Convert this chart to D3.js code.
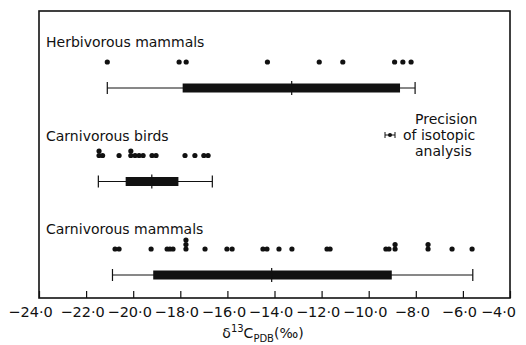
<!DOCTYPE html>
<html>
<head>
<meta charset="utf-8">
<script src="https://cdn.jsdelivr.net/npm/d3@7"></script>
<style>
  body { margin: 0; background: #fff; }
  text { font-family: "DejaVu Sans", sans-serif; fill: #111; }
</style>
</head>
<body>
<svg id="chart" width="526" height="345"></svg>
<script>
// groups, top to bottom
var groups = ['Herbivorous mammals', 'Carnivorous birds', 'Carnivorous mammals'];

// individual measurements (repeated values are drawn stacked)
var herbivorePoints = [-21.1, -18.05, -17.75, -14.3, -12.1, -11.1, -8.9, -8.55, -8.2];
var birdPoints = [-21.45, -21.45, -21.3, -20.6, -20.1, -20.1, -19.92, -19.75, -19.58, -19.2, -19.03, -17.8, -17.38, -17.0, -16.82];
var mammalPoints = [-20.77, -20.6, -19.24, -18.56, -18.44, -18.31, -17.76, -17.76, -17.76, -16.95, -16.02, -15.8,
  -14.49, -14.32, -13.81, -13.26, -11.77, -11.64, -9.27, -9.14, -8.88, -8.88, -7.48, -7.48, -6.46, -5.61];

// box summaries: [min, q1, median, q3, max]
var herbivoreBox = [-21.1, -17.9, -13.27, -8.67, -8.03];
var birdBox = [-21.48, -20.32, -19.21, -18.08, -16.64];
var mammalBox = [-20.88, -19.15, -14.12, -9.02, -5.58];

var tickValues = [-24, -22, -20, -18, -16, -14, -12, -10, -8, -6, -4];
var precision = [-0.2, 0.2];

var pointSets = [herbivorePoints, birdPoints, mammalPoints];
var boxSets = [herbivoreBox, birdBox, mammalBox];

var svg = d3.select('#chart');
var x = d3.scaleLinear().domain([-24, -4]).range([39, 510]);
var row = d3.scaleLinear().domain([0, 2]).range([0, 187]);
var frameTop = 11, frameBottom = 298;

// frame
svg.append('rect')
  .attr('x', x(-24)).attr('y', frameTop)
  .attr('width', x(-4) - x(-24)).attr('height', frameBottom - frameTop)
  .attr('fill', 'none').attr('stroke', '#111').attr('stroke-width', 1.6);

// bottom axis, ticks pointing inward
var axis = svg.append('g')
  .attr('transform', 'translate(0,' + frameBottom + ')')
  .call(d3.axisBottom(x).tickValues(tickValues).tickSizeInner(-7).tickSizeOuter(0).tickPadding(6)
    .tickFormat(function (d) { return '\u2212' + d3.format('.1f')(-d).replace('.', '\u00b7'); }));
axis.select('.domain').remove();
axis.selectAll('line').attr('stroke', '#111').attr('stroke-width', 1.2);
axis.selectAll('text')
  .attr('font-family', '"DejaVu Sans", sans-serif')
  .attr('font-size', 14.5).attr('fill', '#111').attr('dy', '0.9em')
  .attr('dx', function (d) { return d === -4 ? -12 : d === -24 ? -9 : -4; });

// axis title
var title = svg.append('text')
  .attr('x', 263).attr('y', 338)
  .attr('text-anchor', 'middle').attr('font-size', 14);
title.append('tspan').text('\u03b4');
title.append('tspan').attr('font-size', 10).attr('dy', -6).text('13');
title.append('tspan').attr('dy', 6).text('C');
title.append('tspan').attr('font-size', 10).attr('dy', 4).text('PDB');
title.append('tspan').attr('dy', -4).text('(\u2030)');

groups.forEach(function (name, i) {
  var off = row(i);
  var labelY = 47 + off, dotY = 62 + off, boxY = 88 + off;

  svg.append('text')
    .attr('x', 46).attr('y', labelY)
    .attr('font-size', 14).text(name);

  // stacked dots
  var counts = {};
  svg.append('g').selectAll('circle')
    .data(pointSets[i])
    .join('circle')
    .attr('cx', function (d) { return x(d); })
    .attr('cy', function (d) {
      var k = counts[d] || 0;
      counts[d] = k + 1;
      return dotY - k * 4.5;
    })
    .attr('r', 2.6)
    .attr('fill', '#111');

  var b = boxSets[i];
  var g = svg.append('g');
  g.append('line')
    .attr('x1', x(b[0])).attr('x2', x(b[4]))
    .attr('y1', boxY).attr('y2', boxY)
    .attr('stroke', '#111').attr('stroke-width', 1);
  [b[0], b[4]].forEach(function (v) {
    g.append('line')
      .attr('x1', x(v)).attr('x2', x(v))
      .attr('y1', boxY - 6).attr('y2', boxY + 6)
      .attr('stroke', '#111').attr('stroke-width', 1.2);
  });
  g.append('rect')
    .attr('x', x(b[1])).attr('y', boxY - 4.5)
    .attr('width', x(b[3]) - x(b[1])).attr('height', 9)
    .attr('fill', '#111');
  g.append('line')
    .attr('x1', x(b[2])).attr('x2', x(b[2]))
    .attr('y1', boxY - 7).attr('y2', boxY + 7)
    .attr('stroke', '#111').attr('stroke-width', 1.2);
});

// precision key
var px = d3.scaleLinear().domain([-1, 1]).range([385, 395]);
var key = svg.append('g');
key.append('line')
  .attr('x1', px(precision[0] * 5)).attr('x2', px(precision[1] * 5))
  .attr('y1', 135).attr('y2', 135).attr('stroke', '#111');
[precision[0] * 5, precision[1] * 5].forEach(function (v) {
  key.append('line')
    .attr('x1', px(v)).attr('x2', px(v))
    .attr('y1', 132).attr('y2', 138).attr('stroke', '#111');
});
key.append('circle').attr('cx', px(0)).attr('cy', 135).attr('r', 2).attr('fill', '#111');
var lines = ['Precision', 'of isotopic', 'analysis'];
key.selectAll('text.k')
  .data(lines)
  .join('text')
  .attr('class', 'k')
  .attr('x', function (d, i) { return i === 1 ? 403 : 415; })
  .attr('y', function (d, i) { return 124 + i * 16; })
  .attr('font-size', 14)
  .text(function (d) { return d; });
</script>
</body>
</html>
